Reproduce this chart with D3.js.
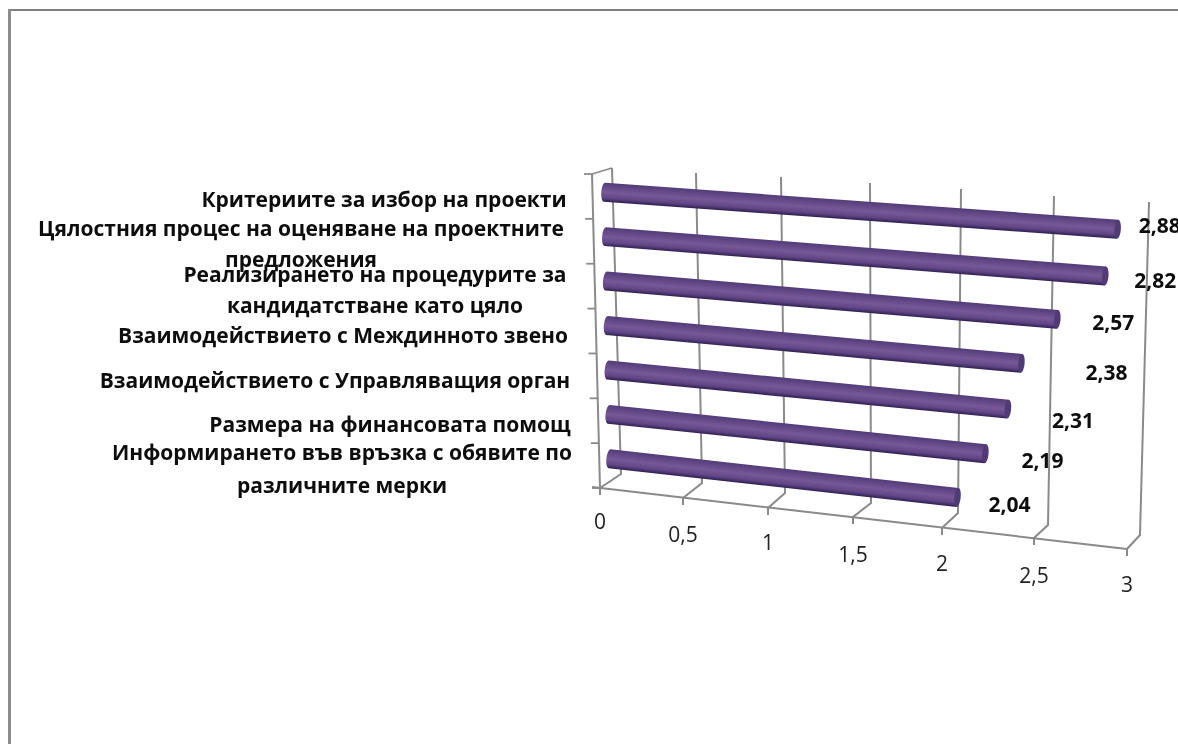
<!DOCTYPE html>
<html>
<head>
<meta charset="utf-8">
<script src="https://cdn.jsdelivr.net/npm/d3@7"></script>
<style>
  html, body { margin: 0; padding: 0; background: #fff; overflow: hidden; }
  text { font-family: "Open Sans", Roboto, sans-serif; fill: #111; }
  .catLabel, .valLabel { font-weight: 700; }
  .tickLabel { fill: #222; }
</style>
</head>
<body>
<script>
// chart data
var categories = [
    "Критериите за избор на проекти",
    "Цялостния процес на оценяване на проектните предложения",
    "Реализирането на процедурите за кандидатстване като цяло",
    "Взаимодействието с Междинното звено",
    "Взаимодействието с Управляващия орган",
    "Размера на финансовата помощ",
    "Информирането във връзка с обявите по различните мерки"
];
var values = [2.88, 2.82, 2.57, 2.38, 2.31, 2.19, 2.04];
var valueLabels = ["2,88", "2,82", "2,57", "2,38", "2,31", "2,19", "2,04"];
var tickValues = [0, 0.5, 1, 1.5, 2, 2.5, 3];
var tickLabels = ["0", "0,5", "1", "1,5", "2", "2,5", "3"];

// category label lines, as wrapped in the picture
var categoryLines = [
    ["Критериите за избор на проекти"],
    ["Цялостния процес на оценяване на проектните", "предложения"],
    ["Реализирането на процедурите за", "кандидатстване като цяло"],
    ["Взаимодействието с Междинното звено"],
    ["Взаимодействието с Управляващия орган"],
    ["Размера на финансовата помощ"],
    ["Информирането във връзка с обявите по", "различните мерки"]
];

var w = 1178, h = 744;

var svg = d3.select("body").append("svg")
    .attr("width", w)
    .attr("height", h)
    .style("display", "block");

var defs = svg.append("defs");
defs.append("filter").attr("id", "soft")
    .append("feGaussianBlur").attr("stdDeviation", 0.5);
defs.append("filter").attr("id", "softText")
    .attr("x", "-5%").attr("y", "-20%").attr("width", "110%").attr("height", "140%")
    .append("feGaussianBlur").attr("stdDeviation", 0.35);

// picture frame, only top and left show
svg.append("rect").attr("x", 8).attr("y", 9).attr("width", w).attr("height", 2).style("fill", "#808080");
svg.append("rect").attr("x", 8).attr("y", 9).attr("width", 3).attr("height", h).style("fill", "#8c8c8c");

// the chart is a 3D box, so each edge of it gets its own scale
function edge(range) {
    return d3.scaleLinear().domain(tickValues).range(range);
}
var frontX = edge([600, 683, 768, 853, 942, 1034, 1127]),
    frontY = edge([488, 498, 508, 517, 528, 538, 549]),
    floorX = edge([621, 702, 785, 871, 958, 1048, 1140]),
    floorY = edge([474, 483, 493, 503, 513, 525, 535]),
    wallX = edge([612, 696, 781, 870, 961, 1054, 1149]),
    wallY = edge([168, 173, 177, 183, 189, 196, 202]);

// the plane the bars sit in, half way into the box
var barTopX = edge([604, 688, 773, 862, 953, 1046, 1141]),
    barTopY = edge([170, 175, 180, 187, 193, 200, 207]),
    barBottomX = edge([610, 692, 776, 862, 950, 1041, 1133]),
    barBottomY = edge([481, 490, 500, 510, 520, 531, 542]);

var row = d3.scaleBand().domain(categories).range([0, 1]);
var axisY = d3.scaleLinear().domain([0, categories.length]).range([174, 488]);
var axisX = d3.scaleLinear().domain([0, categories.length]).range([592, 600]);

function project(v, f) {
    return [
        barTopX(v) + (barBottomX(v) - barTopX(v)) * f,
        barTopY(v) + (barBottomY(v) - barTopY(v)) * f
    ];
}

var chart = svg.append("g").attr("filter", "url(#soft)");
var gridColor = "#8a8a8a";

// gridlines on back wall and floor, axis ticks on the front edge
var grid = chart.selectAll(".grid").data(tickValues).enter().append("path")
    .attr("class", "grid")
    .attr("d", function(d){
        return "M" + wallX(d) + "," + wallY(d) +
            "L" + floorX(d) + "," + floorY(d) +
            "L" + frontX(d) + "," + frontY(d) +
            "L" + frontX(d) + "," + (frontY(d) + 7);
    })
    .style("fill", "none")
    .style("stroke", gridColor)
    .style("stroke-width", 2);

// front axis line
chart.append("path")
    .attr("d", "M" + (frontX(0) - 8) + "," + (frontY(0) - 1) + "L" + frontX(3) + "," + frontY(3))
    .style("fill", "none").style("stroke", gridColor).style("stroke-width", 2);

// category axis
chart.append("path")
    .attr("d", "M" + axisX(0) + "," + axisY(0) + "L" + axisX(categories.length) + "," + axisY(categories.length))
    .style("fill", "none").style("stroke", gridColor).style("stroke-width", 2);
chart.append("path")
    .attr("d", "M" + axisX(0) + "," + axisY(0) + "L" + wallX(0) + "," + wallY(0))
    .style("fill", "none").style("stroke", gridColor).style("stroke-width", 1.6);
chart.selectAll(".catTick").data(d3.range(categories.length + 1)).enter().append("line")
    .attr("class", "catTick")
    .attr("x1", function(d){ return axisX(d) - 8; })
    .attr("x2", function(d){ return axisX(d); })
    .attr("y1", function(d){ return axisY(d); })
    .attr("y2", function(d){ return axisY(d); })
    .style("stroke", gridColor)
    .style("stroke-width", 1.8);

// cylinders
var radius = 9.5;
var barData = categories.map(function(c, i){
    var f = row(c) + row.bandwidth() / 2;
    return { id: i, start: project(0, f), end: project(values[i], f) };
});

barData.forEach(function(d){
    var dx = d.end[0] - d.start[0], dy = d.end[1] - d.start[1], len = Math.hypot(dx, dy);
    d.nx = -dy / len;
    d.ny = dx / len;
    d.angle = Math.atan2(dy, dx) * 180 / Math.PI;
    var grad = defs.append("linearGradient")
        .attr("id", "cyl" + d.id)
        .attr("gradientUnits", "userSpaceOnUse")
        .attr("x1", d.start[0] - d.nx * radius).attr("y1", d.start[1] - d.ny * radius)
        .attr("x2", d.start[0] + d.nx * radius).attr("y2", d.start[1] + d.ny * radius);
    grad.append("stop").attr("offset", "0").attr("stop-color", "#533b78");
    grad.append("stop").attr("offset", "0.5").attr("stop-color", "#765897");
    grad.append("stop").attr("offset", "0.8").attr("stop-color", "#614585");
    grad.append("stop").attr("offset", "1").attr("stop-color", "#2e2050");
});

var bars = chart.selectAll(".bar").data(barData).enter().append("g").attr("class", "bar");

bars.append("path")
    .attr("d", function(d){
        var r = radius, rx = r / 3;
        return "M" + (d.start[0] - d.nx * r) + "," + (d.start[1] - d.ny * r) +
            "L" + (d.end[0] - d.nx * r) + "," + (d.end[1] - d.ny * r) +
            "L" + (d.end[0] + d.nx * r) + "," + (d.end[1] + d.ny * r) +
            "L" + (d.start[0] + d.nx * r) + "," + (d.start[1] + d.ny * r) +
            "A" + rx + "," + r + " " + d.angle + " 0 1 " + (d.start[0] - d.nx * r) + "," + (d.start[1] - d.ny * r) + "Z";
    })
    .style("fill", function(d){ return "url(#cyl" + d.id + ")"; });

// round end
bars.append("ellipse")
    .attr("rx", radius / 3)
    .attr("ry", radius)
    .attr("transform", function(d){
        return "translate(" + d.end[0] + "," + d.end[1] + ") rotate(" + d.angle + ")";
    })
    .style("fill", "#503a76");

var textLayer = svg.append("g").attr("filter", "url(#softText)");

// value axis labels
var tickLabelDy = [41, 44, 42, 45, 43, 45, 43];
textLayer.selectAll(".tickLabel").data(tickValues).enter().append("text")
    .attr("class", "tickLabel")
    .attr("x", function(d){ return frontX(d); })
    .attr("y", function(d, i){ return frontY(d) + tickLabelDy[i]; })
    .attr("text-anchor", "middle")
    .style("font-size", "21px")
    .text(function(d, i){ return tickLabels[i]; });

// value labels, these sit a varying distance off the bar ends
var valueDx = [42, 50, 56, 85, 65, 57, 52];
var valueDy = [4, 12, 11, 17, 19, 14, 14];
textLayer.selectAll(".valLabel").data(barData).enter().append("text")
    .attr("class", "valLabel")
    .attr("x", function(d, i){ return d.end[0] + valueDx[i]; })
    .attr("y", function(d, i){ return d.end[1] + valueDy[i]; })
    .attr("text-anchor", "middle")
    .style("font-size", "21px")
    .text(function(d, i){ return valueLabels[i]; });

// category labels, lines centred on their own box as in the picture
var labelBox = [
    { cx: 384, y: 207, gap: 0 },
    { cx: 301, y: 236, gap: 31 },
    { cx: 375, y: 282, gap: 31 },
    { cx: 343, y: 343, gap: 0 },
    { cx: 335, y: 388, gap: 0 },
    { cx: 390, y: 432, gap: 0 },
    { cx: 342, y: 460, gap: 33 }
];

var catLabels = textLayer.selectAll(".catLabel").data(categoryLines).enter().append("text")
    .attr("class", "catLabel")
    .attr("y", function(d, i){ return labelBox[i].y; })
    .attr("text-anchor", "middle")
    .style("font-size", "21px");

catLabels.selectAll("tspan").data(function(d, i){
        return d.map(function(t){ return { t: t, box: labelBox[i] }; });
    }).enter().append("tspan")
    .attr("x", function(d){ return d.box.cx; })
    .attr("dy", function(d, i){ return i === 0 ? 0 : d.box.gap; })
    .text(function(d){ return d.t; });
</script>
</body>
</html>
